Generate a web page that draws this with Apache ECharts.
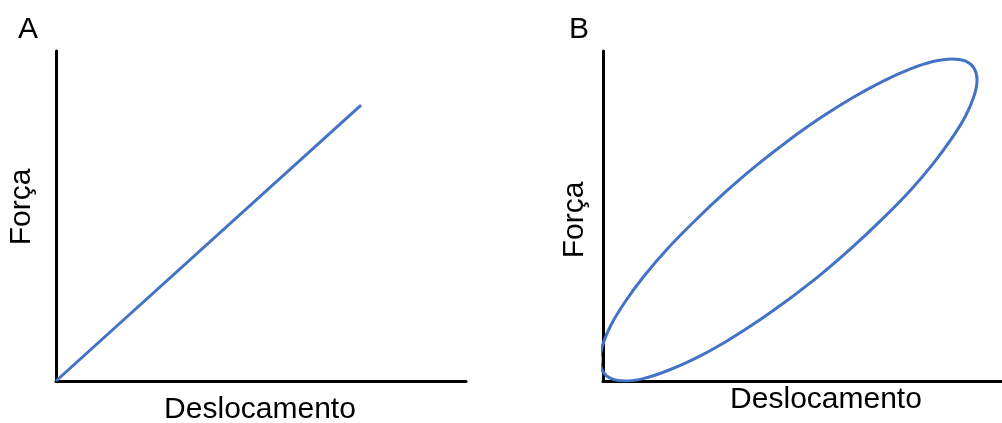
<!DOCTYPE html>
<html lang="pt">
<head>
	<meta charset="UTF-8">
	<title>Força x Deslocamento</title>
	<style>
		html, body { margin: 0; padding: 0; background: #fff; }
	</style>
</head>
<body>
	<div id="main" style="width: 1002px;height:423px;"></div>

<script src='https://cdn.jsdelivr.net/npm/echarts@6/dist/echarts.min.js'></script>
<script>
		// painel A: reta (elástico)
		var linhaA = [[0, 0], [74.4, 83.6]];

		// painel B: laço de histerese (x, y), começa no meio do ramo de baixo
		var lacoB = [
			[46.5, 24.7], [38.3, 17.7], [30.35, 11.6], [22.9, 6.7], [16.1, 3.1],
			[10.3, 0.8], [5.6, 0.0], [2.1, 0.7], [0.0, 2.8], [-0.75, 6.4],
			[0.0, 11.2], [2.1, 17.2], [5.6, 24.1], [10.3, 31.8], [16.1, 40.0],
			[22.9, 48.4], [30.35, 56.9], [38.3, 65.2], [46.5, 72.9], [54.7, 79.9],
			[62.65, 85.9], [70.1, 90.8], [76.9, 94.5], [82.7, 96.8], [87.4, 97.6],
			[90.9, 96.9], [93.0, 94.8], [93.75, 91.2], [93.0, 86.4], [90.9, 80.4],
			[87.4, 73.5], [82.7, 65.8], [76.9, 57.6], [70.1, 49.2], [62.65, 40.7],
			[54.7, 32.4], [46.5, 24.7]
		];

		var fonte = '30px "Liberation Sans", Arial, sans-serif';
		var azul = '#4472C4';

		var myChart = echarts.init(document.getElementById('main'));

		function eixo(idx) {
			return {
				type: 'value', gridIndex: idx, min: 0, max: 100,
				axisLine: { show: true, onZero: false, lineStyle: { color: '#000', width: 3 } },
				axisTick: { show: false },
				axisLabel: { show: false },
				splitLine: { show: false }
			};
		}

		function texto(t, x, y, rot) {
			return {
				type: 'text', x: x, y: y, rotation: rot || 0,
				style: { text: t, font: fonte, fill: '#000', align: 'center', verticalAlign: 'middle' }
			};
		}

		var option = {
			animation: false,
			grid: [
				{ left: 56, top: 51, width: 410, height: 330 },
				{ left: 603, top: 51, width: 400, height: 330 }
			],
			xAxis: [eixo(0), eixo(1)],
			yAxis: [eixo(0), eixo(1)],
			series: [
				{
					type: 'line', xAxisIndex: 0, yAxisIndex: 0, data: linhaA,
					showSymbol: false, lineStyle: { color: azul, width: 3 }
				},
				{
					type: 'line', xAxisIndex: 1, yAxisIndex: 1, data: lacoB,
					showSymbol: false, smooth: 0.3, clip: true, lineStyle: { color: azul, width: 3 }
				}
			],
			graphic: [
				texto('A', 28, 30),
				texto('B', 579, 30),
				texto('Deslocamento', 260, 410),
				texto('Deslocamento', 826, 400),
				texto('Força', 22, 207, Math.PI / 2),
				texto('Força', 575, 220, Math.PI / 2)
			]
		};
		myChart.setOption(option);
</script>
</body>
</html>
